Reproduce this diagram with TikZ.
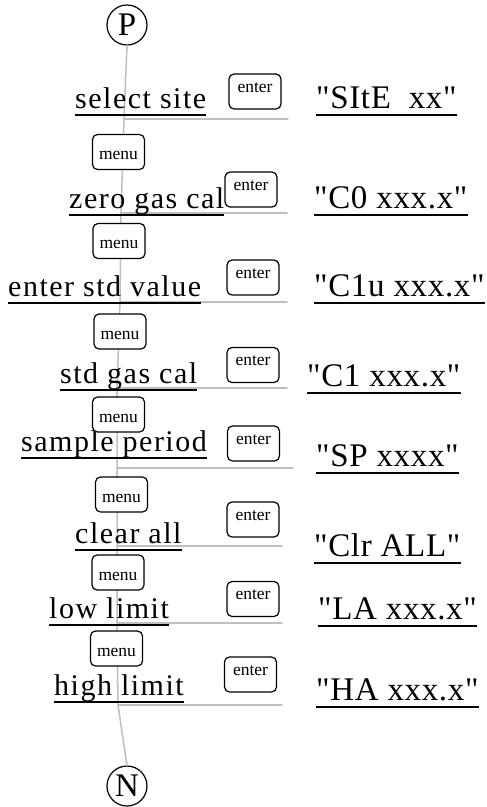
\documentclass[tikz,border=0pt]{standalone}
\usepackage{fontspec}
\setmainfont{Liberation Serif}
\newfontfamily\lblfont[LetterSpace=5]{Liberation Serif}
\newfontfamily\dspfont[LetterSpace=2]{Liberation Serif}
\usetikzlibrary{calc}

\begin{document}
\begin{tikzpicture}[line cap=round,line join=round,x=1pt,y=-1pt,
  term/.style={draw,circle,line width=1.2pt,minimum size=40pt,inner sep=0pt,font=\fontsize{33}{36}\selectfont},
  lbl/.style={inner sep=0pt,anchor=base west,text depth=7pt,font=\lblfont\fontsize{30}{34}\selectfont,
    append after command={(\tikzlastnode.south west) edge[line width=1.5pt,line cap=butt] (\tikzlastnode.south east)}},
  dsp/.style={lbl,font=\dspfont\fontsize{33}{38}\selectfont},
  btn/.style={draw,fill=white,line width=1.2pt,rounded corners=5pt,inner sep=0pt,minimum width=52pt,font=\fontsize{17.5}{20}\selectfont},
  enterbtn/.style={btn,text height=18pt,text depth=17pt},
  menubtn/.style={btn,text height=25pt,text depth=10pt},
  hub/.style={draw=black!25,line width=1.5pt}]
\useasboundingbox (0,0) rectangle (487,807);
\node[term] (P) at (127,25) {P};
\node[term] (N) at (127,786) {N};
%junctions on the spine and ends of the branches
\coordinate (j1) at (124,119); \coordinate (e1) at (288,119);
\coordinate (j2) at (121,213); \coordinate (e2) at (287,213);
\coordinate (j3) at (120,302); \coordinate (e3) at (287,302);
\coordinate (j4) at (117,388); \coordinate (e4) at (287,388);
\coordinate (j5) at (117,468); \coordinate (e5) at (293,468);
\coordinate (j6) at (117,546); \coordinate (e6) at (282,546);
\coordinate (j7) at (117,623); \coordinate (e7) at (282,623);
\coordinate (j8) at (118,705); \coordinate (e8) at (282,705);
\draw [hub] (P.south) -- (j1) -- (j2) -- (j3) -- (j4) -- (j5) -- (j6) -- (j7) -- (j8) -- (N.north);
\foreach \i in {1,...,8}
  \draw [hub] (j\i) -- (e\i);
%menu items
\node[lbl] (sel) at (75,108) {select site};
\node[lbl] (zero) at (69,208) {zero gas cal};
\node[lbl] (std) at (8,296) {enter std value};
\node[lbl] (gas) at (60,383) {std gas cal};
\node[lbl] (per) at (21,451) {sample period};
\node[lbl] (clr) at (75,543) {clear all};
\node[lbl] (low) at (49,618) {low limit};
\node[lbl] (high) at (54,695) {high limit};
%display readings
\node[dsp] (d1) at (316,108) {"SItE\ \ xx"};
\node[dsp] (d2) at (314,208) {"C0 xxx.x"};
\node[dsp] (d3) at (314,296) {"C1u xxx.x"};
\node[dsp] (d4) at (307,386) {"C1 xxx.x"};
\node[dsp] (d5) at (316,466) {"SP xxxx"};
\node[dsp] (d6) at (314,556) {"Clr ALL"};
\node[dsp] (d7) at (318,619) {"LA xxx.x"};
\node[dsp] (d8) at (316,700) {"HA xxx.x"};
%keys
\node[enterbtn] (k1) at (255,91.5) {enter};
\node[enterbtn] (k2) at (251,189.5) {enter};
\node[enterbtn] (k3) at (253,277.5) {enter};
\node[enterbtn] (k4) at (253,365) {enter};
\node[enterbtn] (k5) at (253.5,443.5) {enter};
\node[enterbtn] (k6) at (253,519.5) {enter};
\node[enterbtn] (k7) at (253,599) {enter};
\node[enterbtn] (k8) at (250.5,674.5) {enter};
\node[menubtn] (m1) at (118.5,152) {menu};
\node[menubtn] (m2) at (119,241) {menu};
\node[menubtn] (m3) at (120,331.5) {menu};
\node[menubtn] (m4) at (118.5,414.5) {menu};
\node[menubtn] (m5) at (121.5,494.5) {menu};
\node[menubtn] (m6) at (118,572.5) {menu};
\node[menubtn] (m7) at (116.5,648.5) {menu};
\end{tikzpicture}
\end{document}
